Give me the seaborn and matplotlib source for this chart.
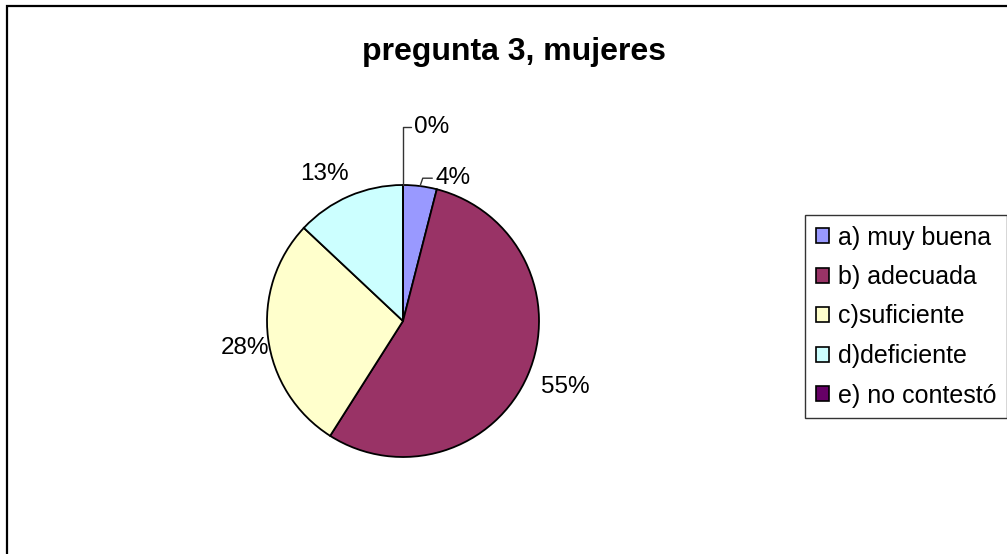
import numpy as np
import matplotlib
matplotlib.use("Agg")
import matplotlib.pyplot as plt
from matplotlib.patches import Patch, Rectangle
import seaborn as sns

# data
categories = ["a) muy buena", "b) adecuada", "c)suficiente", "d)deficiente", "e) no contestó"]
values = [4, 55, 28, 13, 0]
colors = ["#9999FF", "#993366", "#FFFFCC", "#CCFFFF", "#660066"]
title = "pregunta 3, mujeres"

sns.set_theme(style="white")
plt.rcParams["font.family"] = ["Liberation Sans", "DejaVu Sans"]
plt.rcParams["text.color"] = "black"

W, H = 1007, 554
fig = plt.figure(figsize=(W / 100, H / 100), dpi=100)
fig.patch.set_facecolor("white")

# outer chart border (runs off right/bottom edge like the screenshot)
fig.add_artist(Rectangle((7 / W, -0.05), 1.1, 1 - 6 / H + 0.05, transform=fig.transFigure,
                         fill=False, edgecolor="black", linewidth=1.6))

# axes covering the whole figure, scaled so that radius 1 = 136 px
cx, cy, r = 403, 321, 136
ax = fig.add_axes([0, 0, 1, 1])
wedges, _ = ax.pie(values, colors=colors, startangle=90, counterclock=False,
                   wedgeprops=dict(edgecolor="black", linewidth=1.3))
ax.set_xlim(-cx / r, (W - cx) / r)
ax.set_ylim(-(H - cy) / r, cy / r)
ax.set_aspect("equal", adjustable="box")
ax.axis("off")

# small nudges (px) so the outside labels sit where Excel put them
nudge = {55: (10, 0), 28: (7, -6), 13: (-13, -5)}

fs = 17.5
for w, v in zip(wedges, values):
    mid = np.deg2rad((w.theta1 + w.theta2) / 2)
    ex, ey = np.cos(mid), np.sin(mid)
    lab = f"{v}%"
    if v == 0:
        ax.plot([ex, ex, ex + 0.06], [ey, 1.43, 1.43], color="#333333", lw=1)
        ax.text(ex + 0.08, 1.43, lab, ha="left", va="center", fontsize=fs)
    elif v < 6:
        ax.plot([ex, ex + 0.02, ex + 0.09], [ey, 1.05, 1.05], color="#333333", lw=1)
        ax.text(ex + 0.11, 1.05, lab, ha="left", va="center", fontsize=fs)
    else:
        dx, dy = nudge.get(v, (0, 0))
        ax.text(1.22 * ex + dx / r, 1.22 * ey + dy / r, lab, ha="center", va="center", fontsize=fs)

fig.text(514 / W, 1 - 52 / H, title, ha="center", va="center", fontsize=23,
         fontweight="bold", color="black")

handles = [Patch(facecolor=c, edgecolor="black", linewidth=1.2) for c in colors]
leg = fig.legend(handles, categories, loc="upper left", bbox_to_anchor=(805 / W, 1 - 215 / H),
                 fontsize=18, frameon=True, fancybox=False, borderaxespad=0,
                 handlelength=0.55, handleheight=0.55, handletextpad=0.35,
                 labelspacing=0.62, borderpad=0.42)
leg.get_frame().set_edgecolor("black")
leg.get_frame().set_linewidth(1.0)
for t in leg.get_texts():
    t.set_color("black")

fig.savefig("out.png", dpi=100, facecolor="white")
